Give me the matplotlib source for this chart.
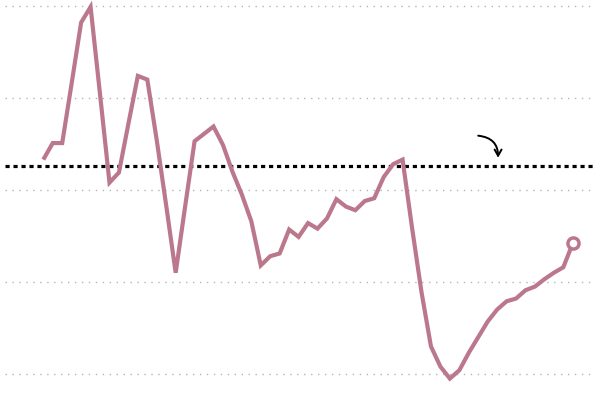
import numpy as np
import matplotlib
matplotlib.use('Agg')
import matplotlib.pyplot as plt

# series values (gridlines at 0, 10, 20, 30, 40)
values = [23.3, 25.1, 25.1, 31.6, 38.2, 39.9, 30.4, 20.8, 21.9, 27.2,
          32.4, 32.0, 25.4, 18.3, 11.0, 18.2, 25.3, 26.1, 26.9, 24.9,
          22.0, 19.5, 16.6, 11.8, 12.8, 13.1, 15.7, 14.9, 16.4, 15.8,
          16.9, 19.0, 18.2, 17.8, 18.8, 19.1, 21.4, 22.8, 23.3, 15.9,
          8.9, 3.0, 0.8, -0.5, 0.4, 2.3, 4.0, 5.7, 7.0, 7.9,
          8.2, 9.1, 9.5, 10.3, 11.0, 11.6, 14.2]
periods = np.arange(len(values))
grid_levels = [0, 10, 20, 30, 40]
ref_level = 22.6

line_color = '#bb788c'

fig = plt.figure(figsize=(6, 4), dpi=100)
ax = fig.add_axes([0, 0, 1, 1])
ax.set_xlim(-4.58, 58.88)
ax.set_ylim(-2.83, 40.65)
ax.axis('off')

# light dotted gridlines
x0, x1 = -4.05, 58.35
for g in grid_levels:
    ax.hlines(g, x0, x1, colors='#b5b5b5', linewidth=1.0,
              linestyles=(0, (1, 4)), zorder=1)

# thick black dotted reference line
ax.hlines(ref_level, x0, x1, colors='black', linewidth=2.3,
          linestyles=(0, (1.3, 1.2)), zorder=2)

# main series
ax.plot(periods, values, color=line_color, linewidth=3.0,
        solid_joinstyle='miter', solid_capstyle='butt', zorder=3)
ax.plot(periods[-1], values[-1], 'o', markersize=8, markerfacecolor='white',
        markeredgecolor=line_color, markeredgewidth=2.5, zorder=4)

# small curved arrow pointing at the reference line
ax.annotate('', xy=(48.1, 23.5), xytext=(46.0, 25.9),
            arrowprops=dict(arrowstyle='->,head_length=0.45,head_width=0.25',
                            color='black', lw=1.4, shrinkA=0, shrinkB=0,
                            connectionstyle='arc3,rad=-0.45'))

fig.savefig('out.png', dpi=100, facecolor='white')
